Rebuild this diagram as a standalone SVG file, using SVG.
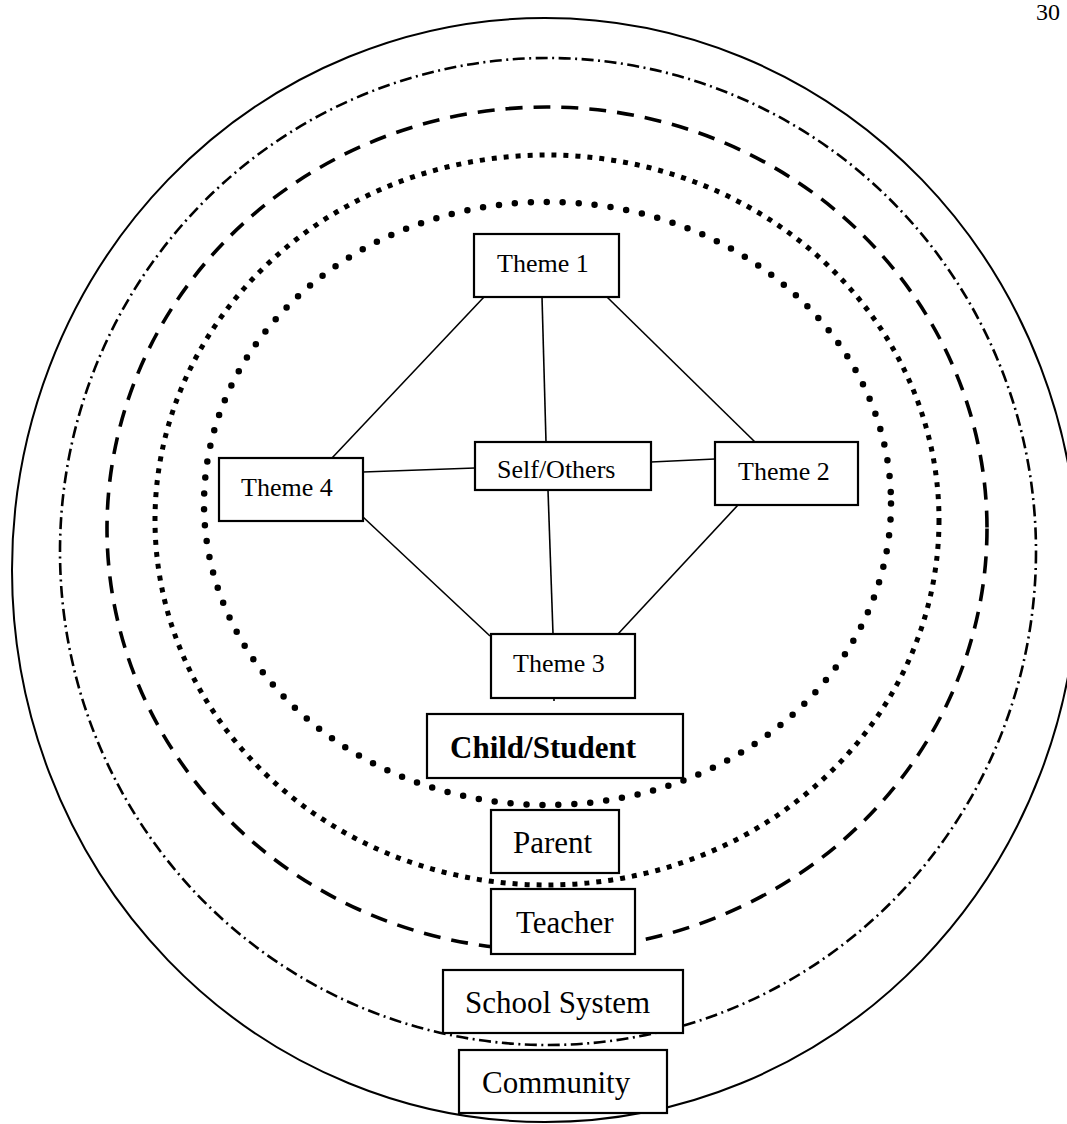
<svg xmlns="http://www.w3.org/2000/svg" width="1067" height="1124" viewBox="0 0 1067 1124">
<style>
  .ring { fill: none; stroke: #000; }
  .box { fill: #fff; stroke: #000; stroke-width: 2.2; }
  .t { font-family: "Liberation Serif", "Times New Roman", serif; fill: #000; }
  .s { font-size: 26px; }
  .l { font-size: 31px; }
  .b { font-size: 31px; font-weight: bold; }
  .conn line { stroke: #000; stroke-width: 1.6; }
</style>
<rect width="1067" height="1124" fill="#fff"/>
<text class="t" x="1036" y="20" font-size="24">30</text>
<g id="rings">
  <ellipse class="ring" cx="545" cy="570" rx="533" ry="552" stroke-width="2"/>
  <ellipse class="ring" cx="548" cy="551.5" rx="488" ry="493.5" stroke-width="2.6" stroke-dasharray="12 4.5 2 4.5"/>
  <ellipse class="ring" cx="547" cy="528.5" rx="440" ry="421.5" stroke-width="3.6" stroke-dasharray="17 11"/>
  <ellipse class="ring" cx="547" cy="520" rx="392" ry="365" stroke-width="5" stroke-dasharray="5 7"/>
  <ellipse class="ring" cx="547.5" cy="503.5" rx="343.5" ry="301.5" stroke-width="6.5" stroke-linecap="round" stroke-dasharray="0 16"/>
</g>
<g id="connectors" class="conn">
  <line x1="484" y1="297" x2="332" y2="458"/>
  <line x1="542" y1="297" x2="546" y2="442"/>
  <line x1="607" y1="297" x2="755" y2="442"/>
  <line x1="475" y1="468" x2="363" y2="472"/>
  <line x1="651" y1="462" x2="715" y2="459"/>
  <line x1="548" y1="490" x2="553" y2="634"/>
  <line x1="363" y1="517" x2="490" y2="636"/>
  <line x1="738" y1="505" x2="618" y2="634"/>
  <line x1="554" y1="698" x2="554" y2="701"/>
</g>
<g id="theme1"><rect class="box" x="474" y="234" width="145" height="63"/><text class="t s" x="497" y="272">Theme 1</text></g>
<g id="theme4"><rect class="box" x="219" y="458" width="144" height="63"/><text class="t s" x="241" y="496">Theme 4</text></g>
<g id="selfothers"><rect class="box" x="475" y="442" width="176" height="48"/><text class="t s" x="497" y="478">Self/Others</text></g>
<g id="theme2"><rect class="box" x="715" y="442" width="143" height="63"/><text class="t s" x="738" y="480">Theme 2</text></g>
<g id="theme3"><rect class="box" x="491" y="634" width="144" height="64"/><text class="t s" x="513" y="672">Theme 3</text></g>
<g id="child"><rect class="box" x="427" y="714" width="256" height="64"/><text class="t b" x="450" y="758">Child/Student</text></g>
<g id="parent"><rect class="box" x="491" y="810" width="128" height="63"/><text class="t l" x="513" y="853">Parent</text></g>
<g id="teacher"><rect class="box" x="491" y="889" width="144" height="65"/><text class="t l" x="516" y="933">Teacher</text></g>
<g id="school"><rect class="box" x="443" y="970" width="240" height="63"/><text class="t l" x="465" y="1013">School System</text></g>
<g id="community"><rect class="box" x="459" y="1050" width="208" height="63"/><text class="t l" x="482" y="1093">Community</text></g>
</svg>
